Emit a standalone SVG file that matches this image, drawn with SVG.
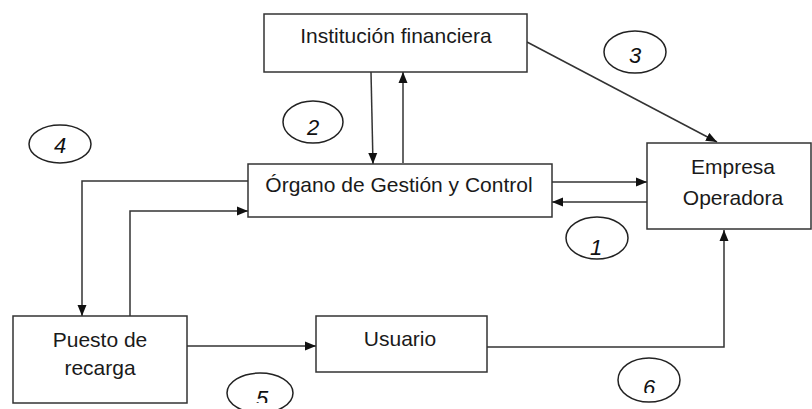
<svg xmlns="http://www.w3.org/2000/svg" width="812" height="409" viewBox="0 0 812 409">
<style>
.box{fill:#fff;stroke:#333;stroke-width:1.5}
.lbl{font-family:"Liberation Sans",Arial,sans-serif;font-size:21px;fill:#1a1a1a;text-anchor:middle}
.num{font-family:"Liberation Sans",Arial,sans-serif;font-size:22px;font-style:italic;fill:#111;text-anchor:middle}
.ell{fill:#fff;stroke:#222;stroke-width:1.5}
.con{fill:none;stroke:#333;stroke-width:1.5}
</style>
<defs>
<marker id="ah" markerUnits="userSpaceOnUse" markerWidth="12" markerHeight="10" refX="11" refY="5" orient="auto">
<path d="M0,0.5 L11,5 L0,9.5 Z" fill="#111"/>
</marker>
<clipPath id="c5"><rect x="0" y="0" width="812" height="403"/></clipPath>
<clipPath id="c6"><rect x="0" y="0" width="812" height="393"/></clipPath>
</defs>
<g id="connectors">
<path class="con" d="M527,42 L717,142" marker-end="url(#ah)"/>
<path class="con" d="M371,72 L373,164" marker-end="url(#ah)"/>
<path class="con" d="M403,163 L403,72" marker-end="url(#ah)"/>
<path class="con" d="M552,182 L647,182" marker-end="url(#ah)"/>
<path class="con" d="M647,202 L552,202" marker-end="url(#ah)"/>
<path class="con" d="M248,181 L82,181 L82,316" marker-end="url(#ah)"/>
<path class="con" d="M130,316 L130,211 L248,211" marker-end="url(#ah)"/>
<path class="con" d="M187,346 L316,346" marker-end="url(#ah)"/>
<path class="con" d="M487,347 L724,347 L724,230" marker-end="url(#ah)"/>
</g>
<g id="institucion">
<rect class="box" x="264" y="14" width="263" height="58"/>
<text class="lbl" x="396" y="43">Institución financiera</text>
</g>
<g id="organo">
<rect class="box" x="248" y="164" width="304" height="53"/>
<text class="lbl" x="399" y="192">Órgano de Gestión y Control</text>
</g>
<g id="empresa">
<rect class="box" x="647" y="143" width="164" height="86"/>
<text class="lbl" x="733" y="174">Empresa</text>
<text class="lbl" x="733" y="205">Operadora</text>
</g>
<g id="puesto">
<rect class="box" x="13" y="316" width="174" height="87"/>
<text class="lbl" x="100" y="347">Puesto de</text>
<text class="lbl" x="100" y="375">recarga</text>
</g>
<g id="usuario">
<rect class="box" x="316" y="316" width="171" height="56"/>
<text class="lbl" x="400" y="346">Usuario</text>
</g>
<g id="label1">
<ellipse class="ell" cx="597" cy="238" rx="31" ry="21"/>
<text class="num" x="596" y="255">1</text>
</g>
<g id="label2">
<ellipse class="ell" cx="313" cy="122" rx="30" ry="21"/>
<text class="num" x="313" y="135">2</text>
</g>
<g id="label3">
<ellipse class="ell" cx="635" cy="52" rx="31" ry="21"/>
<text class="num" x="635" y="63">3</text>
</g>
<g id="label4">
<ellipse class="ell" cx="60" cy="144" rx="31" ry="19"/>
<text class="num" x="60" y="153">4</text>
</g>
<g id="label5">
<ellipse class="ell" cx="260" cy="393" rx="33" ry="20"/>
<text class="num" x="262" y="406" clip-path="url(#c5)">5</text>
</g>
<g id="label6">
<ellipse class="ell" cx="649" cy="380" rx="31" ry="22"/>
<text class="num" x="649" y="395" clip-path="url(#c6)">6</text>
</g>
</svg>
